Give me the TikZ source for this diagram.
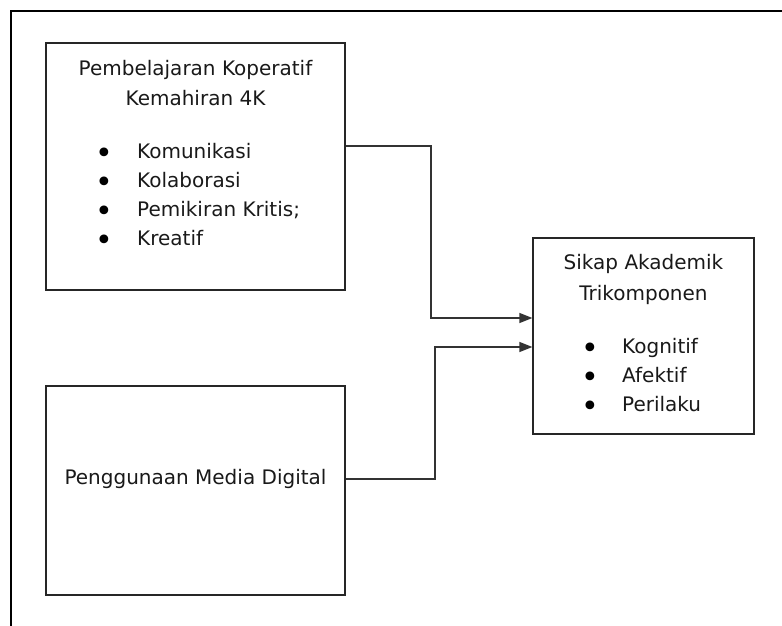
\documentclass[tikz,border=0pt]{standalone}
\usepackage{fontspec}
\setmainfont{DejaVu Sans}
\usetikzlibrary{arrows.meta}

\tikzset{
    box/.style={draw=black!85, line width=1.3pt, inner sep=0pt},
    lbl/.style={font=\fontsize{20}{29}\selectfont, text=black!90, inner sep=0pt},
    dot/.style={font=\fontsize{30}{29}\selectfont, text=black, inner sep=0pt},
    arr/.style={draw=black!80, line width=1.3pt, -{Triangle[length=13pt, width=10pt]}}
}

\begin{document}
\begin{tikzpicture}[x=1pt, y=-1pt]
        \useasboundingbox (0, 0) rectangle (782, 626);
        \draw[line width=2.2pt] (11, 640) -- (11, 11) -- (790, 11);

        \node[box, minimum width=299pt, minimum height=247pt] (koop) at (195.5, 166.5) {};
        \node[box, minimum width=299pt, minimum height=209pt] (media) at (195.5, 490.5) {};
        \node[box, minimum width=221pt, minimum height=196pt] (sikap) at (643.5, 336) {};

        \node[lbl, anchor=base] (koop-t1) at (195.5, 75) {Pembelajaran Koperatif};
        \node[lbl, anchor=base] (koop-t2) at (195.5, 106) {Kemahiran 4K};
        \foreach \entry [count=\k] in {Komunikasi, Kolaborasi, {Pemikiran Kritis;}, Kreatif} {
                \node[dot] (koop-b\k) at (104, 127 + 29*\k) {•};
                \node[lbl, anchor=base west] (koop-i\k) at (137, 129 + 29*\k) {\entry};
            }

        \node[lbl] (media-t) at (195.5, 479) {Penggunaan Media Digital};

        \node[lbl, anchor=base] (sikap-t1) at (643.5, 269) {Sikap Akademik};
        \node[lbl, anchor=base] (sikap-t2) at (643.5, 300) {Trikomponen};
        \foreach \entry [count=\k] in {Kognitif, Afektif, Perilaku} {
                \node[dot] (sikap-b\k) at (590, 322 + 29*\k) {•};
                \node[lbl, anchor=base west] (sikap-i\k) at (622, 324 + 29*\k) {\entry};
            }

        \coordinate (bend1) at (431, 0);
        \coordinate (bend2) at (435, 0);
        \draw[arr] ([yshift=20.5pt]koop.east) coordinate (out1) -- (out1 -| bend1) |- ([yshift=18pt]sikap.west);
        \draw[arr] ([yshift=11.5pt]media.east) coordinate (out2) -- (out2 -| bend2) |- ([yshift=-11pt]sikap.west);
    \end{tikzpicture}
\end{document}
